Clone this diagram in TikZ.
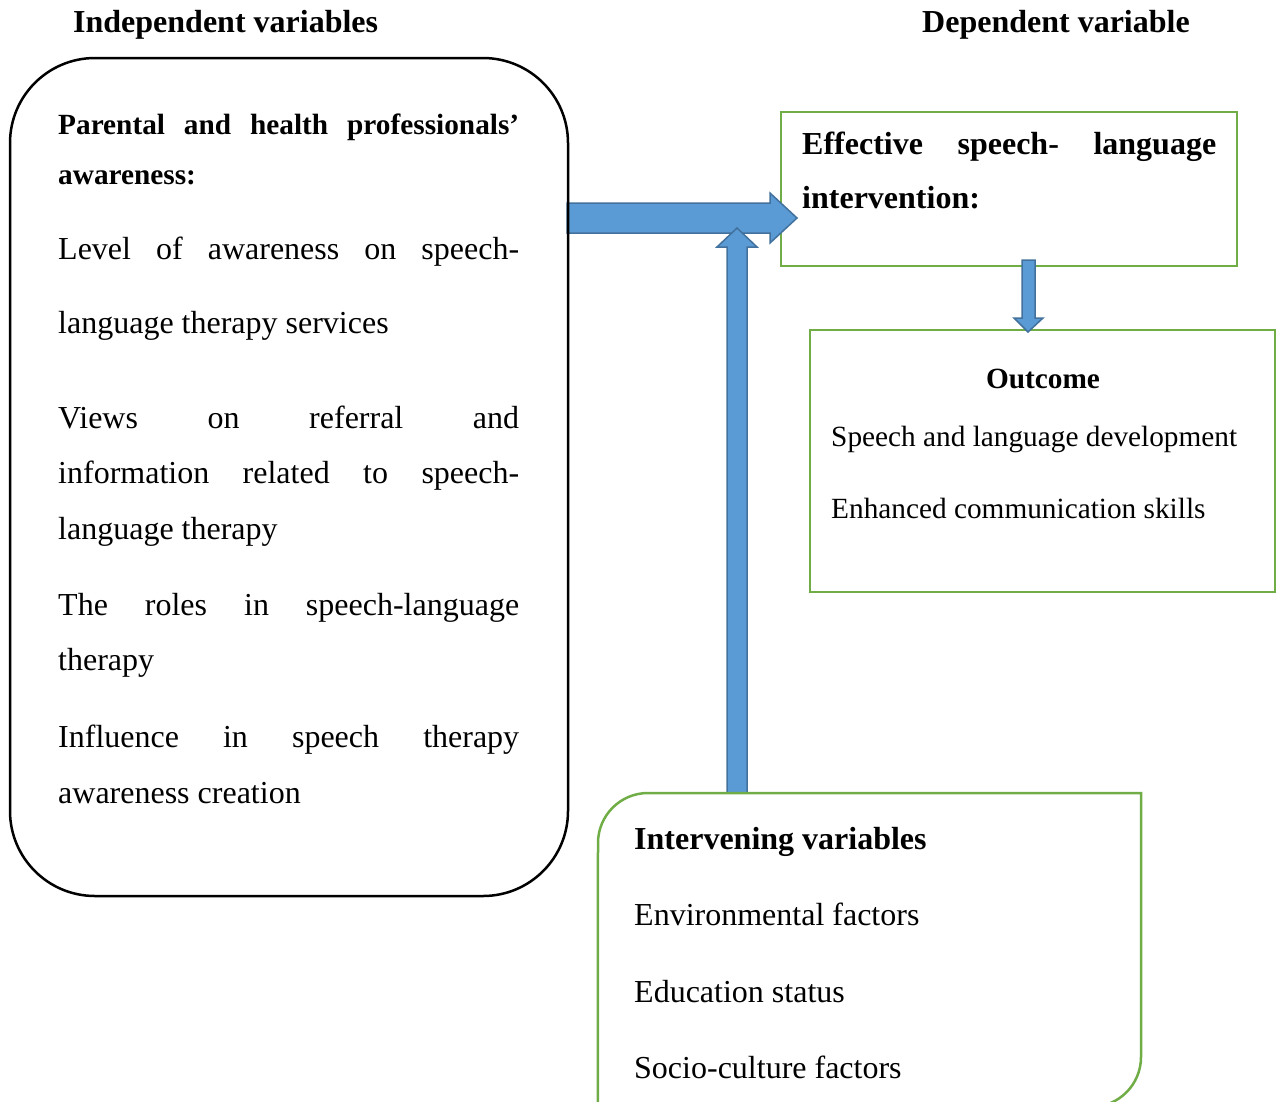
\documentclass[tikz,border=0pt]{standalone}
\usepackage{fontspec}
\setmainfont{Liberation Serif}
\definecolor{grn}{HTML}{70AD47}
\definecolor{blu}{HTML}{5B9BD5}
\definecolor{bluedge}{HTML}{41719C}
\newcommand\jfill[2]{\makebox[#1][s]{#2}}
\begin{document}
\begin{tikzpicture}[x=1pt,y=-1pt,
  txt/.style={anchor=base west, inner sep=0pt, font=\fontsize{32pt}{38pt}\selectfont},
  btxt/.style={txt, font=\fontsize{32pt}{38pt}\selectfont\bfseries},
  stxt/.style={txt, font=\fontsize{29.3pt}{35pt}\selectfont},
  sbtxt/.style={txt, font=\fontsize{29.3pt}{35pt}\selectfont\bfseries},
  greenbox/.style={draw=grn, line width=2.5pt, inner sep=0pt},
  blockarrow/.style={fill=blu, draw=bluedge, line width=1.5pt, line join=miter},
]
\useasboundingbox (0,0) rectangle (1277,1101);
\clip (0,0) rectangle (1277,1101);

% titles
\node[btxt] (tIndep) at (73,32) {Independent variables};
\node[btxt] (tDep) at (922,32) {Dependent variable};

% boxes (shapes)
\node[greenbox, minimum width=456pt, minimum height=154pt] (eff) at (1009,189) {};
\node[greenbox, minimum width=465pt, minimum height=262pt] (out) at (1042.5,461) {};
\node[inner sep=0pt, minimum width=543pt, minimum height=314pt] (inter) at (869.5,950) {};

% horizontal block arrow: left box -> effective box
\coordinate (hA) at (567,218);
\coordinate (hB) at (797,218);
\draw[blockarrow] (hA) ++(0,-15) -- (770,203) -- (770,193) -- (hB) -- (770,243) -- (770,233) -- (567,233) -- cycle;

% left rounded box
\node[draw=black, line width=2.5pt, rounded corners=85pt, minimum width=558pt, minimum height=838pt, inner sep=0pt] (left) at (289,477) {};

% vertical block arrow: intervening box -> horizontal arrow
\coordinate (vA) at (737,793);
\coordinate (vB) at (737,228);
\draw[blockarrow] (vA) ++(-10,0) -- (727,247) -- (717,247) -- (vB) -- (757,247) -- (747,247) -- (747,793) -- cycle;

% small block arrow: effective box -> outcome box
\coordinate (sA) at (1028,260);
\coordinate (sB) at (1028,332);
\draw[blockarrow] (sA) ++(-6,0) -- (1022,318) -- (1014,318) -- (sB) -- (1043,318) -- (1035,318) -- (1035,260) -- cycle;

% intervening box: top-left and bottom-right corners rounded
\draw[draw=grn, line width=2.5pt]
  (inter.south west) -- (598,843) .. controls (598,815.4) and (620.4,793) .. (648,793)
  -- (1141,793) -- (1141,1057) .. controls (1141,1084.6) and (1118.6,1107) .. (1091,1107)
  -- cycle;

% left box text
\node[sbtxt] (l1) at (58,134) {\jfill{461pt}{Parental and health professionals’}};
\node[sbtxt] (l2) at (58,184) {awareness:};
\node[txt] (l3) at (58,259) {\jfill{461pt}{Level of awareness on speech-}};
\node[txt] (l4) at (58,333) {language therapy services};
\node[txt] (l5) at (58,428) {\jfill{461pt}{Views on referral and}};
\node[txt] (l6) at (58,483) {\jfill{461pt}{information related to speech-}};
\node[txt] (l7) at (58,539) {language therapy};
\node[txt] (l8) at (58,615) {\jfill{461pt}{The roles in speech-language}};
\node[txt] (l9) at (58,670) {therapy};
\node[txt] (l10) at (58,747) {\jfill{461pt}{Influence in speech therapy}};
\node[txt] (l11) at (58,803) {awareness creation};

% effective box text
\node[btxt] (e1) at (802,154) {\jfill{414pt}{Effective speech- language}};
\node[btxt] (e2) at (802,208) {intervention:};

% outcome box text
\node[sbtxt, anchor=base] (o1) at (1043,388) {Outcome};
\node[stxt] (o2) at (831,446) {Speech and language development};
\node[stxt] (o3) at (831,518) {Enhanced communication skills};

% intervening text
\node[btxt] (i1) at (634,849) {Intervening variables};
\node[txt] (i2) at (634,925) {Environmental factors};
\node[txt] (i3) at (634,1002) {Education status};
\node[txt] (i4) at (634,1078) {Socio-culture factors};
\end{tikzpicture}
\end{document}
